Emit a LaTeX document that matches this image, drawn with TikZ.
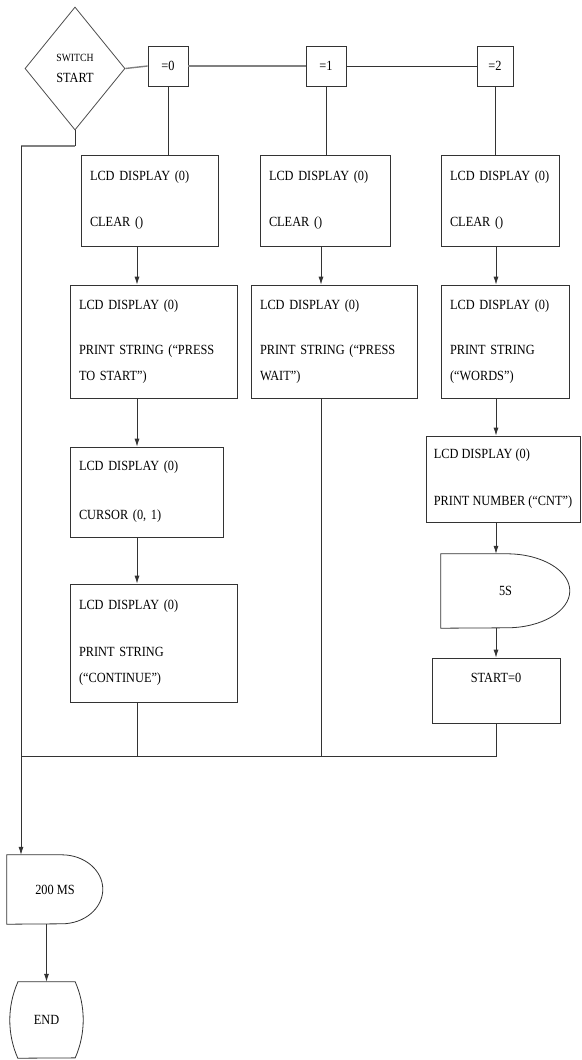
\documentclass[tikz,border=0pt]{standalone}
\usepackage{fontspec}
\setmainfont{Liberation Serif}[FakeStretch=0.88]
\usetikzlibrary{arrows.meta,shapes.geometric}

\begin{document}
\begin{tikzpicture}[
	x=1pt, y=-1pt,
	font=\fontsize{14}{26}\selectfont,
	lcdbox/.style={draw=black!80, line width=0.8pt, align=left, inner xsep=9pt, inner ysep=0pt},
	casebox/.style={draw=black!80, line width=0.8pt, minimum width=40pt, minimum height=40pt, inner sep=0pt},
	decision/.style={diamond, draw=black!70, line width=0.8pt, minimum width=100pt, minimum height=123pt, inner sep=0pt, align=center, font=\fontsize{14}{21}\selectfont},
	delaytext/.style={inner sep=0pt},
	wire/.style={line width=0.8pt, draw=black!80},
	bus/.style={line width=1.4pt, draw=black!50},
	arrow/.style={wire, -{Latex[length=8pt,width=5pt]}}
]
\useasboundingbox (0,0) rectangle (581,1060);

% Switch on START and the three cases.
\node[decision] (switch) at (75,68.5) {{\fontsize{11}{13}\selectfont SWITCH}\\START};
\node[casebox] (eq0) at (168,66) {=0};
\node[casebox] (eq1) at (326,66) {=1};
\node[casebox, minimum width=36pt] (eq2) at (495,66) {=2};

% Case 0.
\node[lcdbox, text width=119pt, minimum height=91pt] (lcdA1) at (149.5,200.5) {LCD DISPLAY (0)\\[20pt]CLEAR ()};
\node[lcdbox, text width=149pt, minimum height=113pt] (lcdA2) at (153.5,341.5) {LCD DISPLAY (0)\\[19pt]PRINT STRING (“PRESS\\TO START”)};
\node[lcdbox, text width=135pt, minimum height=90pt] (lcdA3) at (146.5,492) {LCD DISPLAY (0)\\[23pt]CURSOR (0, 1)};
\node[lcdbox, text width=149pt, minimum height=118pt] (lcdA4) at (153.5,643) {LCD DISPLAY (0)\\[21pt]PRINT STRING\\(“CONTINUE”)};

% Case 1.
\node[lcdbox, text width=112pt, minimum height=91pt] (lcdB1) at (325,200.5) {LCD DISPLAY (0)\\[20pt]CLEAR ()};
\node[lcdbox, text width=148pt, minimum height=113pt] (lcdB2) at (334,341.5) {LCD DISPLAY (0)\\[19pt]PRINT STRING (“PRESS\\WAIT”)};

% Case 2.
\node[lcdbox, text width=100pt, minimum height=91pt] (lcdC1) at (500,200.5) {LCD DISPLAY (0)\\[20pt]CLEAR ()};
\node[lcdbox, text width=110pt, minimum height=113pt] (lcdC2) at (505,341.5) {LCD DISPLAY (0)\\[19pt]PRINT STRING\\(“WORDS”)};
\node[lcdbox, inner xsep=4pt, minimum width=154pt, minimum height=86pt] (lcdC3) at (503,479) {LCD DISPLAY (0)\\[21pt]PRINT NUMBER (“CNT”)};
\node[delaytext, minimum width=129pt, minimum height=74pt] (wait5) at (505.5,591) {5S};
\draw[wire] (wait5.north west) -- ++(66,0) arc[start angle=90, end angle=-90, x radius=63pt, y radius=37pt] -- (wait5.south west) -- cycle;
\node[lcdbox, align=center, text width=110pt, minimum height=65pt] (startzero) at (496,690.5) {START=0\\ \mbox{}};

% Delay and end.
\node[delaytext, minimum width=96pt, minimum height=69pt] (wait200) at (55,889.5) {200 MS};
\draw[wire] (wait200.north west) -- ++(55,0) arc[start angle=90, end angle=-90, x radius=41pt, y radius=34.5pt] -- (wait200.south west) -- cycle;
\node[delaytext, minimum width=57pt, minimum height=76pt] (stop) at (46.5,1020) {END};
\draw[wire] (stop.north west) -- (stop.north east) arc[start angle=23.8, end angle=-23.8, radius=94.25pt] -- (stop.south west) arc[start angle=203.8, end angle=156.2, radius=94.25pt] -- cycle;

\coordinate (c1) at (137,0);
\coordinate (c2) at (321,0);
\coordinate (c3) at (496,0);
\coordinate (merge) at (496,756);
\coordinate (leftbus) at (21,146);

\draw[bus] (switch.east) -- (eq0.west);
\draw[bus] (eq0.east) -- (eq1.west);
\draw[wire] (eq1.east) -- (eq2.west);
\draw[wire] (eq0.south) -- (eq0.south |- lcdA1.north);
\draw[wire] (eq1.south) -- (eq1.south |- lcdB1.north);
\draw[wire] (eq2.south) -- (eq2.south |- lcdC1.north);

\draw[arrow] (c1 |- lcdA1.south) -- (c1 |- lcdA2.north);
\draw[arrow] (c1 |- lcdA2.south) -- (c1 |- lcdA3.north);
\draw[arrow] (c1 |- lcdA3.south) -- (c1 |- lcdA4.north);
\draw[arrow] (c2 |- lcdB1.south) -- (c2 |- lcdB2.north);
\draw[arrow] (c3 |- lcdC1.south) -- (c3 |- lcdC2.north);
\draw[arrow] (c3 |- lcdC2.south) -- (c3 |- lcdC3.north);
\draw[arrow] (c3 |- lcdC3.south) -- (c3 |- wait5.north);
\draw[arrow] (c3 |- wait5.south) -- (c3 |- startzero.north);

\draw[wire] (c1 |- lcdA4.south) -- (c1 |- merge);
\draw[wire] (c2 |- lcdB2.south) -- (c2 |- merge);
\draw[wire] (startzero.south -| c3) -- (merge) -- (leftbus |- merge);

\draw[wire] (switch.south) -- (switch.south |- leftbus);
\draw[bus] (switch.south |- leftbus) -- (leftbus);
\draw[arrow] (leftbus) -- (leftbus |- wait200.north);
\draw[arrow] (wait200.south -| stop.north) -- (stop.north);

\end{tikzpicture}
\end{document}
